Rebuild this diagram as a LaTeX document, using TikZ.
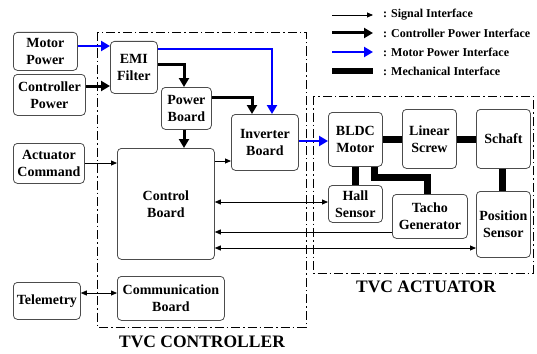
\documentclass[tikz,border=0pt]{standalone}
\usepackage{fontspec}
\setmainfont{Liberation Serif}
\usetikzlibrary{arrows.meta}
\begin{document}
\begin{tikzpicture}[x=1pt,y=-1pt,
 box/.style={draw=black!70, line width=0.8pt, rounded corners=4pt, align=center, font=\bfseries\fontsize{14}{17}\selectfont, inner sep=0pt, anchor=north west},
 sig/.style={line width=0.8pt, -{Triangle[length=6pt,width=5pt]}},
 sigd/.style={line width=0.8pt, {Triangle[length=6pt,width=5pt]}-{Triangle[length=6pt,width=5pt]}},
 cpow/.style={line width=3pt, -{Triangle[length=9pt,width=10pt]}},
 mpow/.style={line width=2.5pt, blue, -{Triangle[length=9pt,width=10pt]}},
 mech/.style={line width=7pt},
 frame/.style={line width=0.9pt, dash pattern=on 9pt off 3pt on 1.5pt off 3pt},
 lbl/.style={font=\bfseries\fontsize{17.5}{20}\selectfont, inner sep=0pt},
 leg/.style={font=\bfseries\fontsize{12}{14}\selectfont, inner sep=0pt, anchor=west},
 ]
\useasboundingbox (0,0) rectangle (537,353);
% frames
\draw[frame] (97,32) rectangle (306,327);
\draw[frame] (313,96) rectangle (533,273);
\node[lbl] (lc) at (202,342) {TVC CONTROLLER};
\node[lbl] (la) at (426,287) {TVC ACTUATOR};
% boxes
\node[box, minimum width=64pt, minimum height=38pt] (mp) at (13,32) {Motor\\Power};
\node[box, minimum width=72pt, minimum height=41pt] (cp) at (13,74) {Controller\\Power};
\node[box, minimum width=71pt, minimum height=40pt] (ac) at (13,143) {Actuator\\Command};
\node[box, minimum width=67pt, minimum height=37pt] (tel) at (13,282) {Telemetry};
\node[box, minimum width=47pt, minimum height=52pt] (emi) at (110,41) {EMI\\Filter};
\node[box, minimum width=50pt, minimum height=42pt] (pb) at (161,87) {Power\\Board};
\node[box, minimum width=97pt, minimum height=111pt] (cb) at (117,148) {Control\\Board};
\node[box, minimum width=67pt, minimum height=56pt] (inv) at (231,114) {Inverter\\Board};
\node[box, minimum width=107pt, minimum height=44pt] (cm) at (117,276) {Communication\\Board};
\node[box, minimum width=54pt, minimum height=54pt] (bldc) at (328,112) {BLDC\\Motor};
\node[box, minimum width=54pt, minimum height=59pt] (ls) at (402,109) {Linear\\Screw};
\node[box, minimum width=54pt, minimum height=59pt] (sc) at (476,109) {Schaft};
\node[box, minimum width=54pt, minimum height=37pt] (hall) at (328,185) {Hall\\Sensor};
\node[box, minimum width=75pt, minimum height=44pt] (tg) at (392,194) {Tacho\\Generator};
\node[box, minimum width=54pt, minimum height=66pt] (ps) at (476,191) {Position\\Sensor};
% motor power
\draw[mpow] (mp.east |- 0,46) -- (emi.west |- 0,46);
\draw[mpow] (emi.east |- 0,49) -| (inv.north -| 272,0);
\draw[mpow] (inv.east |- 0,141) -- (bldc.west |- 0,141);
% controller power
\draw[cpow] (cp.east |- 0,86) -- (emi.west |- 0,86);
\draw[cpow] (emi.east |- 0,64) -| (pb.north -| 184,0);
\draw[cpow] (pb.east |- 0,97) -| (inv.north -| 252,0);
\draw[cpow] (pb.south -| 184,0) -- (cb.north -| 184,0);
% signals
\draw[sig] (ac.east |- 0,163) -- (cb.west |- 0,163);
\draw[sig] (cb.east |- 0,161) -- (inv.west |- 0,161);
\draw[sigd] (cb.east |- 0,202) -- (hall.west |- 0,202);
\draw[sig] (tg.west |- 0,232) -- (cb.east |- 0,232);
\draw[sigd] (cb.east |- 0,248) -- (ps.west |- 0,248);
\draw[sigd] (tel.east |- 0,293) -- (cm.west |- 0,293);
% mechanical
\draw[mech] (bldc.east |- 0,139) -- (ls.west |- 0,139);
\draw[mech] (ls.east |- 0,139) -- (sc.west |- 0,139);
\draw[mech] (sc.south -| 502,0) -- (ps.north -| 502,0);
\draw[mech] (bldc.south -| 355,0) -- (hall.north -| 355,0);
\coordinate (tk) at (427,177);
\draw[mech] (bldc.south -| 374,0) |- (tk) -- (tg.north -| tk);
% legend
\coordinate (l1a) at (332,15); \coordinate (l1b) at (373,15);
\coordinate (l2a) at (332,33); \coordinate (l2b) at (373,33);
\coordinate (l3a) at (332,52); \coordinate (l3b) at (373,52);
\coordinate (l4a) at (332,71); \coordinate (l4b) at (373,71);
\draw[sig] (l1a) -- (l1b);
\draw[cpow] (l2a) -- (l2b);
\draw[mpow] (l3a) -- (l3b);
\draw[line width=6pt] (l4a) -- (l4b);
\node[leg] (t1) at (383,15) {: Signal Interface};
\node[leg] (t2) at (383,33) {: Controller Power Interface};
\node[leg] (t3) at (383,52) {: Motor Power Interface};
\node[leg] (t4) at (383,71) {: Mechanical Interface};
\end{tikzpicture}
\end{document}
